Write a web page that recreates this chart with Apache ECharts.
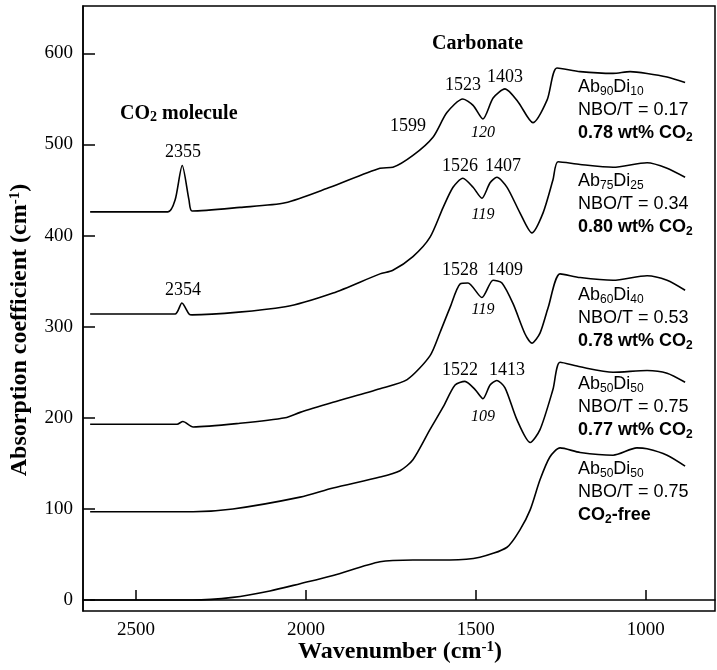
<!DOCTYPE html>
<html>
<head>
<meta charset="utf-8">
<script src="https://cdn.jsdelivr.net/npm/echarts@6/dist/echarts.min.js"></script>
<style>html,body{margin:0;padding:0;background:#fff}#chart{width:717px;height:670px}</style>
</head>
<body>
<div id="chart"></div>
<script>
// [wavenumber, absorption]
var ab90di10 = [[2635,426],[2406,426],[2385,439],[2364,477],[2344,439],[2335,427],[2194,431],[2061,436],[1929,453],[1782,474],[1744,475],[1685,488],[1626,508],[1585,535],[1538,550],[1508,543],[1479,528],[1449,551],[1414,561],[1376,547],[1332,524],[1290,549],[1261,584],[1193,580],[1096,578],[1046,580],[996,578],[937,574],[884,568]];
var ab75di25 = [[2635,314],[2385,314],[2365,326],[2344,314],[2335,313],[2061,322],[1920,337],[1782,358],[1744,362],[1685,377],[1635,398],[1596,431],[1567,453],[1538,463],[1508,453],[1482,441],[1458,458],[1438,464],[1408,453],[1370,425],[1335,403],[1302,425],[1273,461],[1258,481],[1193,478],[1096,475],[996,480],[937,474],[884,464]];
var ab60di40 = [[2635,193],[2379,193],[2362,196],[2332,190],[2194,194],[2061,200],[2017,206],[1920,217],[1782,232],[1702,242],[1635,268],[1605,294],[1576,321],[1546,347],[1523,348],[1482,332],[1449,351],[1423,348],[1390,325],[1355,292],[1335,282],[1311,293],[1287,321],[1252,358],[1193,354],[1096,351],[996,356],[937,351],[884,340]];
var ab50di50 = [[2635,97],[2332,97],[2215,100],[2017,113],[1920,123],[1782,135],[1723,142],[1685,154],[1635,187],[1596,212],[1561,236],[1532,240],[1502,231],[1479,221],[1458,236],[1438,241],[1414,233],[1379,198],[1340,173],[1311,187],[1273,231],[1252,261],[1193,256],[1096,250],[996,252],[937,249],[884,239]];
var ab50di50Free = [[2635,0],[2335,0],[2215,3],[2106,10],[2017,18],[1920,27],[1782,42],[1685,44],[1576,44],[1488,47],[1408,58],[1370,77],[1340,99],[1311,132],[1282,157],[1252,167],[1193,162],[1096,159],[1026,167],[996,166],[937,159],[884,147]];
var xTicks = [2500, 2000, 1500, 1000];
var yTicks = [0, 100, 200, 300, 400, 500, 600];

var chart = echarts.init(document.getElementById('chart'));
var serif = '"Liberation Serif", "DejaVu Serif", serif';
var sans = '"Liberation Sans", Arial, sans-serif';

function line(data) {
    return {type: 'line', data: data, smooth: 0.25, symbol: 'none', lineStyle: {color: '#000', width: 1.6}, silent: true};
}
function c(x, y, text, italic) {
    return {type: 'text', x: x, y: y, style: {text: text, fill: '#000', font: (italic ? 'italic 16px ' : '18px ') + serif, align: 'center', verticalAlign: 'middle'}};
}
var subRich = {
    n: {fontFamily: sans, fontSize: 18, fill: '#000'},
    s: {fontFamily: sans, fontSize: 12, padding: [9, 0, 0, 0]},
    b: {fontFamily: sans, fontSize: 18, fontWeight: 'bold'},
    bs: {fontFamily: sans, fontSize: 12, fontWeight: 'bold', padding: [9, 0, 0, 0]}
};
function label(y, a, b, lines) {
    return [
        {type: 'text', left: 578, top: y - 12, style: {text: '{n|Ab}{s|' + a + '}{n|Di}{s|' + b + '}', rich: subRich, fill: '#000'}},
        {type: 'text', left: 578, top: y + 11, style: {text: '{n|' + lines[0] + '}', rich: subRich, fill: '#000'}},
        {type: 'text', left: 578, top: y + 34, style: {text: lines[1], rich: subRich, fill: '#000'}}
    ];
}

var graphics = [
    {type: 'text', left: 120, top: 104, style: {text: '{a|CO}{b|2}{a| molecule}', rich: {a: {font: 'bold 20px ' + serif}, b: {font: 'bold 14px ' + serif, padding: [7, 0, 0, 0]}}}},
    {type: 'text', left: 432, top: 34, style: {text: 'Carbonate', font: 'bold 20px ' + serif, fill: '#000'}},
    c(183, 152, '2355'), c(183, 290, '2354'),
    c(408, 126, '1599'), c(463, 85, '1523'), c(505, 77, '1403'), c(483, 133, '120', true),
    c(460, 166, '1526'), c(503, 166, '1407'), c(483, 215, '119', true),
    c(460, 270, '1528'), c(505, 270, '1409'), c(483, 310, '119', true),
    c(460, 370, '1522'), c(507, 370, '1413'), c(483, 417, '109', true),
    {type: 'text', x: 400, y: 652, style: {text: '{a|Wavenumber (cm}{b|-1}{a|)}', align: 'center', verticalAlign: 'middle', rich: {a: {font: 'bold 24px ' + serif}, b: {font: 'bold 15px ' + serif, padding: [0, 0, 10, 0]}}}},
    {type: 'text', x: 20, y: 330, rotation: Math.PI / 2, style: {text: '{a|Absorption coefficient (cm}{b|-1}{a|)}', align: 'center', verticalAlign: 'middle', rich: {a: {font: 'bold 24px ' + serif}, b: {font: 'bold 15px ' + serif, padding: [0, 0, 10, 0]}}}}
];
graphics = graphics.concat(
    label(90, '90', '10', ['NBO/T = 0.17', '{b|0.78 wt% CO}{bs|2}']),
    label(184, '75', '25', ['NBO/T = 0.34', '{b|0.80 wt% CO}{bs|2}']),
    label(298, '60', '40', ['NBO/T = 0.53', '{b|0.78 wt% CO}{bs|2}']),
    label(387, '50', '50', ['NBO/T = 0.75', '{b|0.77 wt% CO}{bs|2}']),
    label(472, '50', '50', ['NBO/T = 0.75', '{b|CO}{bs|2}{b|-free}'])
);

var option = {
    animation: false,
    grid: {left: 83, right: 2, top: 6, bottom: 59, show: true, borderColor: '#000', borderWidth: 1.5},
    xAxis: {
        type: 'value', inverse: true, min: 796, max: 2656,
        splitLine: {show: false},
        axisLine: {lineStyle: {color: '#000', width: 1.5}},
        axisTick: {inside: true, length: 10, customValues: xTicks, lineStyle: {color: '#000', width: 1.5}},
        axisLabel: {customValues: xTicks, formatter: function (v) { return String(v); }, color: '#000', fontFamily: serif, fontSize: 19, margin: 10}
    },
    yAxis: {
        type: 'value', min: -12, max: 652,
        splitLine: {show: false},
        axisLine: {lineStyle: {color: '#000', width: 1.5}},
        axisTick: {inside: true, length: 12, customValues: yTicks, lineStyle: {color: '#000', width: 1.5}},
        axisLabel: {customValues: yTicks, formatter: function (v) { return String(v); }, color: '#000', fontFamily: serif, fontSize: 19, margin: 10}
    },
    series: [line(ab90di10), line(ab75di25), line(ab60di40), line(ab50di50), line(ab50di50Free)],
    graphic: graphics
};
chart.setOption(option);
</script>
</body>
</html>
